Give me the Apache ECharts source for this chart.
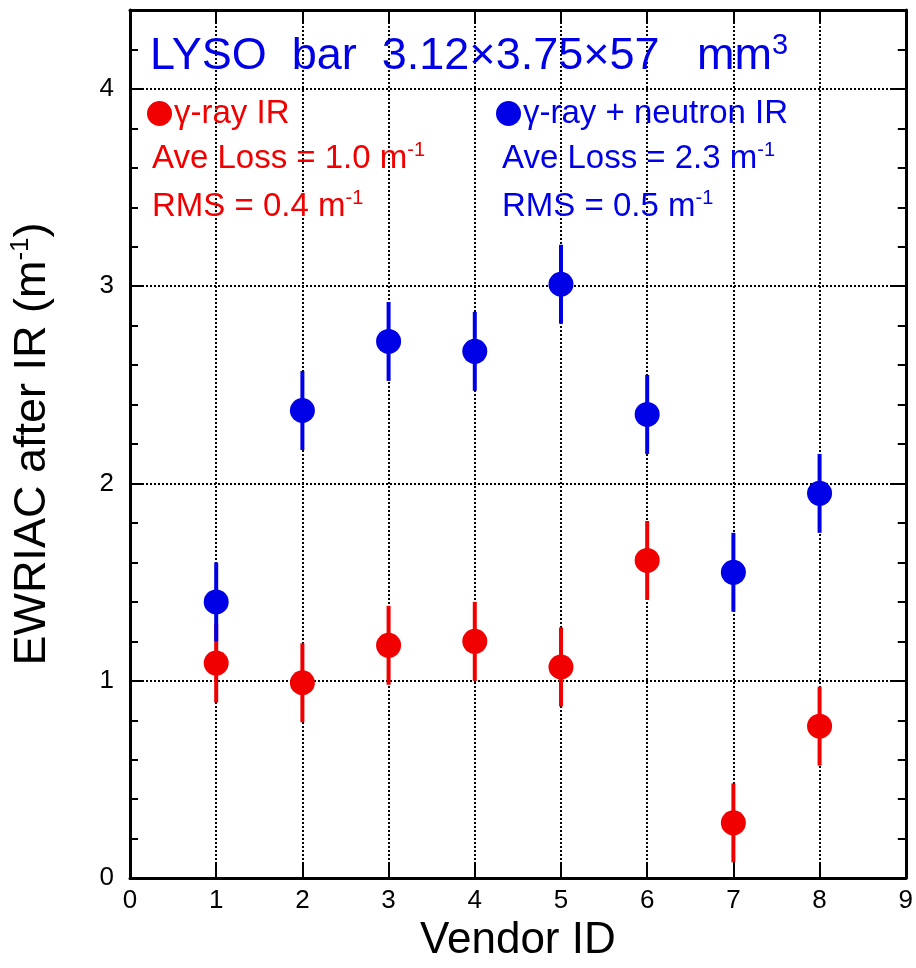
<!DOCTYPE html>
<html>
<head>
<meta charset="utf-8">
<script src="https://cdn.jsdelivr.net/npm/echarts@6/dist/echarts.min.js"></script>
<style>
    html, body { margin: 0; padding: 0; background: #fff; }
    #chart { width: 916px; height: 968px; }
</style>
</head>
<body>
<div id="chart"></div>
<script>
var vendorIds = [1, 2, 3, 4, 5, 6, 7, 8];
var gammaVals = [1.09, 0.99, 1.18, 1.20, 1.07, 1.61, 0.28, 0.77];
var gammaErr = [0.2, 0.2, 0.2, 0.2, 0.2, 0.2, 0.2, 0.2];
var neutronVals = [1.40, 2.37, 2.72, 2.67, 3.01, 2.35, 1.55, 1.95];
var neutronErr = [0.2, 0.2, 0.2, 0.2, 0.2, 0.2, 0.2, 0.2];

var RED = '#f00000';
var BLUE = '#0000e6';
var FONT = 'Liberation Sans';

function pairs(vals) {
    return vendorIds.map(function (id, i) { return [id, vals[i]]; });
}
function errRows(vals, errs) {
    return vendorIds.map(function (id, i) { return [id, vals[i] - errs[i], vals[i] + errs[i]]; });
}
function errSeries(name, vals, errs, color, z) {
    return {
        name: name,
        type: 'custom',
        yAxisIndex: 0,
        data: errRows(vals, errs),
        itemStyle: { color: color },
        renderItem: function (params, api) {
            var lo = api.coord([api.value(0), api.value(1)]);
            var hi = api.coord([api.value(0), api.value(2)]);
            return {
                type: 'line',
                shape: { x1: lo[0], y1: lo[1], x2: hi[0], y2: hi[1] },
                style: { stroke: color, lineWidth: 4 }
            };
        },
        z: z
    };
}
function statTitle(text, left, top, color) {
    return {
        text: text,
        left: left,
        top: top,
        padding: 0,
        textStyle: {
            color: color, fontSize: 33, fontWeight: 'normal', fontFamily: FONT,
            rich: {
                sup: { color: color, fontSize: 20, fontFamily: FONT, padding: [0, 0, 18, 0] }
            }
        }
    };
}
function legendAt(name, left, color) {
    return {
        data: [{ name: name, itemStyle: { color: color } }],
        left: left,
        top: 97,
        icon: 'circle',
        itemWidth: 25,
        itemHeight: 25,
        itemGap: 0,
        padding: 0,
        textStyle: { color: color, fontSize: 33, fontFamily: FONT, padding: [0, 0, 0, -3] },
        selectedMode: false
    };
}

var chart = echarts.init(document.getElementById('chart'));

var dotted = { color: '#000', width: 2, type: [2, 2] };
var frameLine = { show: true, onZero: false, lineStyle: { color: '#000', width: 3 } };
var noLine = { show: false, onZero: false };

var option = {
    backgroundColor: '#fff',
    animation: false,
    title: [
        {
            text: 'LYSO  bar  3.12×3.75×57   mm{sup|3}',
            left: 150,
            top: 31,
            padding: 0,
            textStyle: {
                color: BLUE, fontSize: 45, fontWeight: 'normal', fontFamily: FONT,
                rich: { sup: { color: BLUE, fontSize: 29, fontFamily: FONT, padding: [0, 0, 22, 0] } }
            }
        },
        statTitle('Ave Loss = 1.0 m{sup|-1}', 152, 140, RED),
        statTitle('RMS = 0.4 m{sup|-1}', 152, 188, RED),
        statTitle('Ave Loss = 2.3 m{sup|-1}', 502, 140, BLUE),
        statTitle('RMS = 0.5 m{sup|-1}', 502, 188, BLUE)
    ],
    legend: [
        legendAt('γ-ray IR', 147, RED),
        legendAt('γ-ray + neutron IR', 496, BLUE)
    ],
    grid: { left: 125, right: 6, top: 10, bottom: 88, containLabel: false },
    xAxis: [
        {
            type: 'value', position: 'bottom', min: 0, max: 9, interval: 1,
            name: 'Vendor ID', nameLocation: 'middle', nameGap: 40,
            nameTextStyle: { color: '#000', fontSize: 44, fontFamily: FONT },
            axisLine: frameLine,
            axisTick: { show: true, inside: true, length: 15, lineStyle: { color: '#000', width: 2 } },
            axisLabel: { color: '#000', fontSize: 26, fontFamily: FONT, margin: 10 },
            splitLine: { show: true, lineStyle: dotted }
        },
        {
            type: 'value', position: 'top', min: 0, max: 9, interval: 1,
            axisLine: frameLine,
            axisTick: { show: true, inside: true, length: 14, lineStyle: { color: '#000', width: 2 } },
            axisLabel: { show: false },
            splitLine: { show: false }
        }
    ],
    yAxis: [
        {
            type: 'value', position: 'left', min: 0, max: 4.4, interval: 1,
            name: 'EWRIAC after IR (m{sup|-1})', nameLocation: 'middle', nameGap: 72,
            nameTextStyle: {
                color: '#000', fontSize: 45, fontFamily: FONT,
                rich: { sup: { color: '#000', fontSize: 26, fontFamily: FONT, padding: [0, 0, 24, 0] } }
            },
            axisLine: frameLine,
            axisTick: { show: true, inside: true, length: 14, lineStyle: { color: '#000', width: 2 } },
            axisLabel: {
                color: '#000', fontSize: 26, fontFamily: FONT, margin: 16,
                formatter: function (v) { return Math.abs(v - Math.round(v)) < 1e-6 ? String(Math.round(v)) : ''; }
            },
            splitLine: { show: true, lineStyle: dotted }
        },
        {
            type: 'value', position: 'left', min: 0, max: 4.4, interval: 0.2,
            axisLine: noLine,
            axisTick: { show: true, inside: true, length: 8, lineStyle: { color: '#000', width: 2 } },
            axisLabel: { show: false },
            splitLine: { show: false }
        },
        {
            type: 'value', position: 'right', min: 0, max: 4.4, interval: 1,
            axisLine: frameLine,
            axisTick: { show: true, inside: true, length: 14, lineStyle: { color: '#000', width: 2 } },
            axisLabel: { show: false },
            splitLine: { show: false }
        },
        {
            type: 'value', position: 'right', min: 0, max: 4.4, interval: 0.2,
            axisLine: noLine,
            axisTick: { show: true, inside: true, length: 8, lineStyle: { color: '#000', width: 2 } },
            axisLabel: { show: false },
            splitLine: { show: false }
        }
    ],
    series: [
        errSeries('γ-ray IR', gammaVals, gammaErr, RED, 3),
        {
            name: 'γ-ray IR', type: 'scatter', yAxisIndex: 0,
            data: pairs(gammaVals), symbol: 'circle', symbolSize: 25,
            itemStyle: { color: RED, opacity: 1 }, z: 4
        },
        errSeries('γ-ray + neutron IR', neutronVals, neutronErr, BLUE, 5),
        {
            name: 'γ-ray + neutron IR', type: 'scatter', yAxisIndex: 0,
            data: pairs(neutronVals), symbol: 'circle', symbolSize: 25,
            itemStyle: { color: BLUE, opacity: 1 }, z: 6
        }
    ]
};

chart.setOption(option);
</script>
</body>
</html>
